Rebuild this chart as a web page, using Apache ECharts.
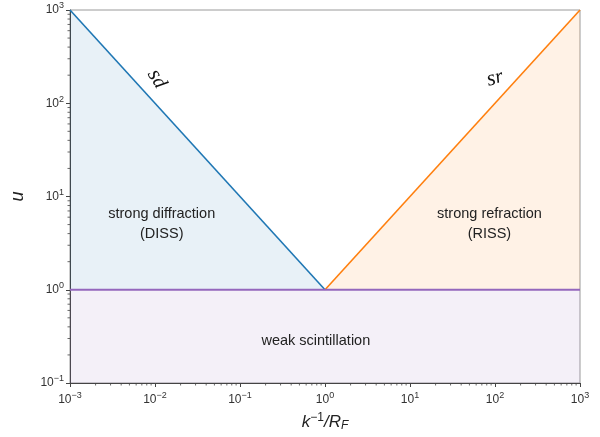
<!DOCTYPE html>
<html>
<head>
<meta charset="utf-8">
<style>html,body{margin:0;padding:0;background:#fff}#c{width:600px;height:437px}</style>
<script src="https://cdn.jsdelivr.net/npm/echarts@6/dist/echarts.min.js"></script>
</head>
<body>
<div id="c"></div>
<script>
// ---- data ----
var xRange = [0.001, 1000];
var yRange = [0.1, 1000];
var diffractionLine = [[0.001, 1000], [1, 1]];
var refractionLine = [[1, 1], [1000, 1000]];
var weakLine = [[0.001, 1], [1000, 1]];
var diffractionFill = [[0.001, 1000], [1, 1], [0.001, 1]];
var refractionFill = [[1, 1], [1000, 1000], [1000, 1]];
var weakFill = [[0.001, 0.1], [1000, 0.1], [1000, 1], [0.001, 1]];
var annotations = [
  { pos: [0.012, 5.1], text: 'strong diffraction\n(DISS)' },
  { pos: [86, 5.1], text: 'strong refraction\n(RISS)' },
  { pos: [0.78, 0.28], text: 'weak scintillation' }
];
var curveLabels = [
  { pos: [0.0105, 182], s: 's', sub: 'd', rot: -60 },
  { pos: [100, 185], s: 's', sub: 'r', rot: 15 }
];
var xMinorTicks = [], yMinorTicks = [];
[0.001, 0.01, 0.1, 1, 10, 100].forEach(function (d) {
  [2, 3, 4, 5, 6, 7, 8, 9].forEach(function (m) { xMinorTicks.push(d * m); });
});
[0.1, 1, 10, 100].forEach(function (d) {
  [2, 3, 4, 5, 6, 7, 8, 9].forEach(function (m) { yMinorTicks.push(d * m); });
});

var FONT = '"Liberation Sans", Arial, Helvetica, sans-serif';
function powLabel(v) {
  var e = Math.round(Math.log10(v));
  var es = e < 0 ? '\u2212' + (-e) : '' + e;
  return '{b|10}{s|' + es + '}';
}
var tickRich = {
  b: { fontSize: 12, color: '#333', fontFamily: FONT },
  s: { fontSize: 9, color: '#333', fontFamily: FONT, padding: [0, 0, 8, 0] }
};

function fillSeries(points, color) {
  return {
    type: 'custom', coordinateSystem: 'cartesian2d', silent: true, z: 1,
    data: [0],
    renderItem: function (params, api) {
      var pts = points.map(function (p) { return api.coord(p); });
      return { type: 'polygon', shape: { points: pts }, style: { fill: color } };
    }
  };
}

var chart = echarts.init(document.getElementById('c'));
chart.setOption({
  animation: false,
  backgroundColor: '#fff',
  grid: { left: 70, right: 20, top: 10, bottom: 54, containLabel: false, outerBoundsMode: 'none',
          show: true, borderColor: '#9a9a9a', borderWidth: 1, backgroundColor: 'transparent' },
  xAxis: {
    type: 'log', logBase: 10, min: xRange[0], max: xRange[1],
    axisLine: { show: true, lineStyle: { color: '#444', width: 1 } },
    axisTick: { show: true, length: 4, inside: false, lineStyle: { color: '#444' } },
    splitLine: { show: false },
    axisLabel: { formatter: powLabel, rich: tickRich, margin: 8 },
    name: '{i|k}{s|\u22121}{i|/R}{sub|F}',
    nameLocation: 'middle', nameGap: 29,
    nameTextStyle: {
      rich: {
        i: { fontSize: 17, fontStyle: 'italic', color: '#222', fontFamily: FONT },
        s: { fontSize: 12, color: '#222', fontFamily: FONT, padding: [0, 0, 9, 0] },
        sub: { fontSize: 12, fontStyle: 'italic', color: '#222', fontFamily: FONT, padding: [7, 0, 0, 0] }
      }
    }
  },
  yAxis: {
    type: 'log', logBase: 10, min: yRange[0], max: yRange[1],
    axisLine: { show: true, lineStyle: { color: '#444', width: 1 } },
    axisTick: { show: true, length: 4, inside: false, lineStyle: { color: '#444' } },
    splitLine: { show: false },
    axisLabel: { formatter: powLabel, rich: tickRich, margin: 6 },
    name: 'u', nameLocation: 'middle', nameGap: 43, nameRotate: 90,
    nameTextStyle: { fontSize: 18, fontStyle: 'italic', color: '#222', fontFamily: FONT }
  },
  series: [
    fillSeries(diffractionFill, 'rgba(31,119,180,0.1)'),
    fillSeries(refractionFill, 'rgba(255,127,14,0.1)'),
    fillSeries(weakFill, 'rgba(148,103,189,0.1)'),
    { type: 'line', data: diffractionLine, symbol: 'none', z: 3, lineStyle: { color: '#1f77b4', width: 1.6 } },
    { type: 'line', data: refractionLine, symbol: 'none', z: 3, lineStyle: { color: '#ff7f0e', width: 1.6 } },
    { type: 'line', data: weakLine, symbol: 'none', z: 3, lineStyle: { color: '#9467bd', width: 2.2 } },
    {
      type: 'custom', coordinateSystem: 'cartesian2d', silent: true, clip: false, z: 4,
      data: xMinorTicks,
      renderItem: function (params, api) {
        var p = api.coord([api.value(0), yRange[0]]);
        return { type: 'line', shape: { x1: p[0], y1: p[1], x2: p[0], y2: p[1] + 2.5 }, style: { stroke: '#444', lineWidth: 0.8 } };
      },
      encode: { x: 0 }
    },
    {
      type: 'custom', coordinateSystem: 'cartesian2d', silent: true, clip: false, z: 4,
      data: yMinorTicks,
      renderItem: function (params, api) {
        var p = api.coord([xRange[0], api.value(0)]);
        return { type: 'line', shape: { x1: p[0], y1: p[1], x2: p[0] - 2.5, y2: p[1] }, style: { stroke: '#444', lineWidth: 0.8 } };
      },
      encode: { y: 0 }
    },
    {
      type: 'custom', coordinateSystem: 'cartesian2d', silent: true, z: 5,
      data: annotations.map(function (a) { return a.pos; }),
      renderItem: function (params, api) {
        var p = api.coord([api.value(0), api.value(1)]);
        return { type: 'text', x: p[0], y: p[1], style: {
          text: annotations[params.dataIndex].text, fill: '#222', fontSize: 14.5, fontFamily: FONT,
          align: 'center', verticalAlign: 'middle', lineHeight: 20 } };
      }
    },
    {
      type: 'custom', coordinateSystem: 'cartesian2d', silent: true, z: 5,
      data: curveLabels.map(function (a) { return a.pos; }),
      renderItem: function (params, api) {
        var c = curveLabels[params.dataIndex];
        var p = api.coord([api.value(0), api.value(1)]);
        return { type: 'text', x: p[0], y: p[1], rotation: c.rot * Math.PI / 180, style: {
          text: '{a|' + c.s + '}{b|' + c.sub + '}', align: 'center', verticalAlign: 'middle',
          rich: {
            a: { fontSize: 22, fontStyle: 'italic', fontFamily: '"Liberation Serif", "DejaVu Serif", serif', fill: '#111' },
            b: { fontSize: 20, fontStyle: 'italic', fontFamily: '"Liberation Serif", "DejaVu Serif", serif', fill: '#111' }
          } } };
      }
    }
  ]
});
</script>
</body>
</html>
